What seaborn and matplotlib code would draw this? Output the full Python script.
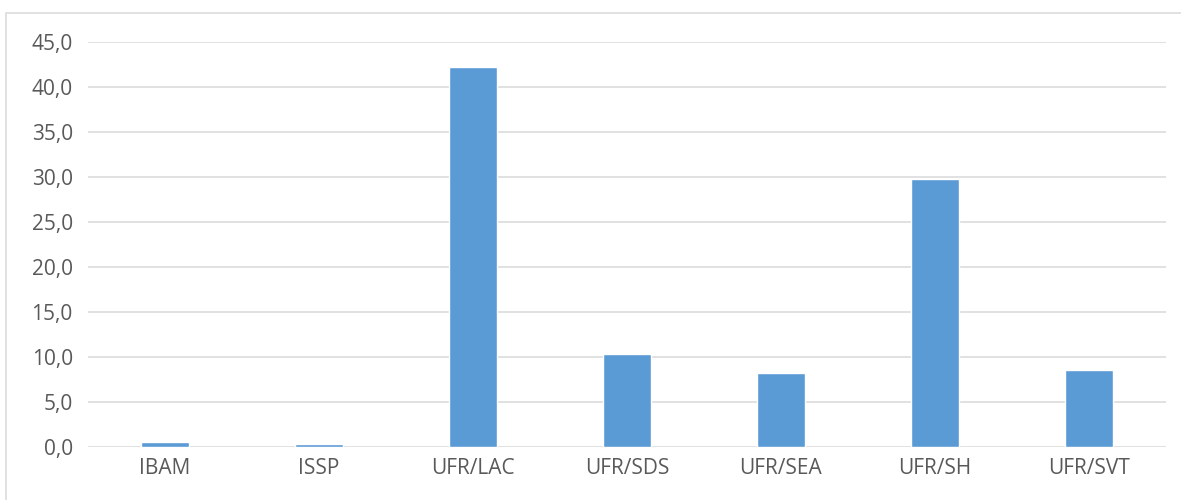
import matplotlib
matplotlib.use("Agg")
import matplotlib.pyplot as plt
from matplotlib.patches import Rectangle
from matplotlib.ticker import FuncFormatter, MultipleLocator
import seaborn as sns
import pandas as pd

# Share (%) per institute / UFR
categories = ["IBAM", "ISSP", "UFR/LAC", "UFR/SDS", "UFR/SEA", "UFR/SH", "UFR/SVT"]
values = [0.6, 0.3, 42.2, 10.3, 8.2, 29.8, 8.6]

BAR_COLOR = "#5B9BD5"
GRID_COLOR = "#D9D9D9"
TEXT_COLOR = "#595959"

sns.set_theme(style="white")
plt.rcParams["font.family"] = ["Open Sans", "DejaVu Sans"]

df = pd.DataFrame({"categorie": categories, "valeur": values})

fig = plt.figure(figsize=(11.81, 5.0), dpi=100)
ax = fig.add_axes([0.0745, 0.106, 0.9126, 0.810])

sns.barplot(data=df, x="categorie", y="valeur", color=BAR_COLOR,
            width=0.31, saturation=1, ax=ax, zorder=3)

ax.set_ylim(0, 45)
ax.set_xlim(-0.5, len(categories) - 0.5)
ax.yaxis.set_major_locator(MultipleLocator(5))
ax.yaxis.set_major_formatter(FuncFormatter(lambda v, _: f"{v:.1f}".replace(".", ",")))
ax.grid(axis="y", color=GRID_COLOR, linewidth=1.1, zorder=0)
ax.set_axisbelow(True)
for s in ax.spines.values():
    s.set_visible(False)
ax.set_xlabel("")
ax.set_ylabel("")
ax.tick_params(axis="y", length=0, pad=11, labelsize=15, labelcolor=TEXT_COLOR)
ax.tick_params(axis="x", length=0, pad=8, labelsize=15, labelcolor=TEXT_COLOR)

# chart frame
fig.patches.append(Rectangle((6 / 1181, -0.1), 1.2, 1 - 13 / 500 + 0.1,
                             transform=fig.transFigure, fill=False,
                             edgecolor=GRID_COLOR, linewidth=1.1))

fig.savefig("out.png", dpi=100)
